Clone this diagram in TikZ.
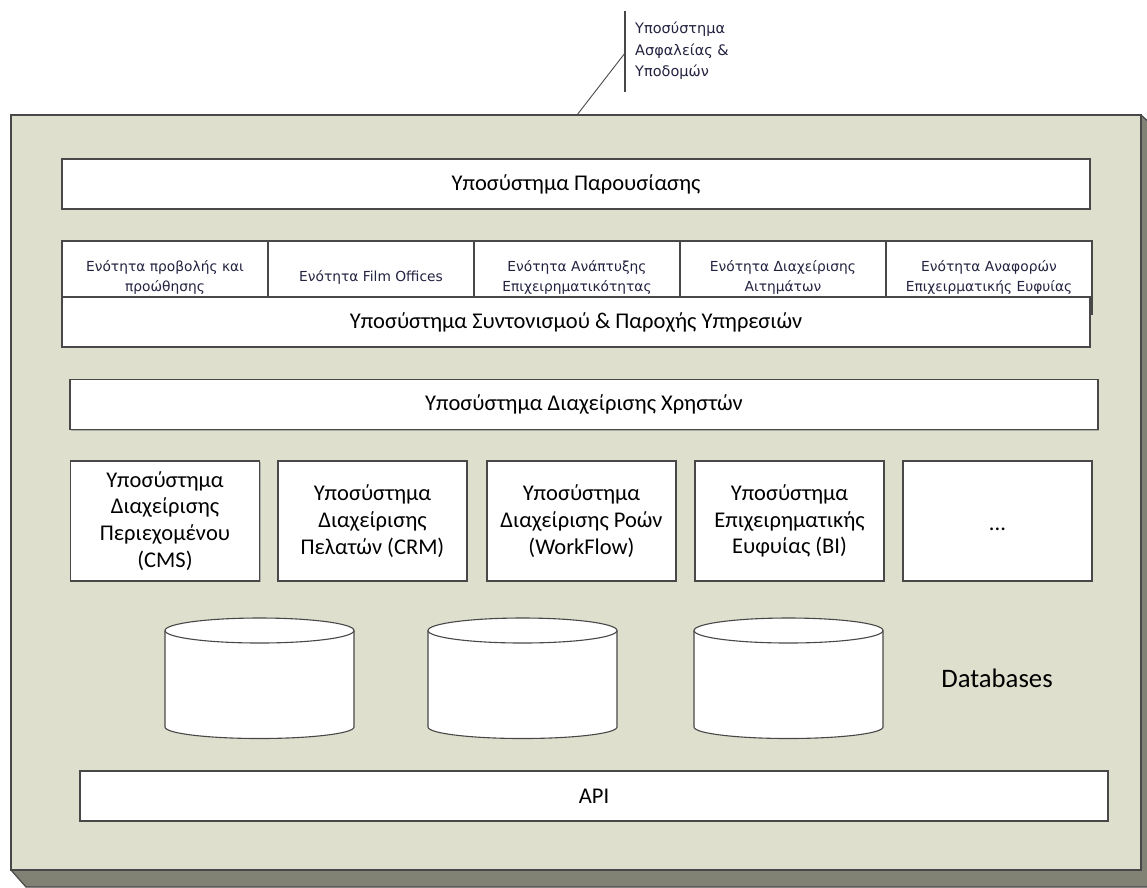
\documentclass[tikz,border=0pt]{standalone}
\usepackage{fontspec}
\setmainfont{Carlito}
\newfontfamily\tahomafont{DejaVu Sans}
\usetikzlibrary{shadows}

\definecolor{facecol}{RGB}{222,224,205}
\definecolor{depthcol}{RGB}{129,129,116}
\definecolor{edgecol}{RGB}{72,72,72}
\definecolor{smalltext}{RGB}{35,35,65}

\tikzset{
  boxed/.style={draw=edgecol, fill=white, line width=1.2pt, inner sep=0pt,
    drop shadow={shadow xshift=1.4pt, shadow yshift=-1.4pt, fill=black!45, opacity=0.6}},
  layer/.style={boxed, minimum height=50pt, font=\fontsize{22.5}{26.5}\selectfont},
  unitbox/.style={boxed, minimum width=206pt, minimum height=73pt, align=center,
    text=smalltext, font=\tahomafont\fontsize{13.8}{20}\selectfont},
  subsys/.style={boxed, minimum width=189pt, minimum height=120pt, align=center,
    font=\fontsize{22.5}{26.8}\selectfont},
}

\begin{document}
\begin{tikzpicture}[x=1pt,y=-1pt]
        \useasboundingbox (0,0) rectangle (1147,887);

        % the 3d frame of the system
        \filldraw[fill=depthcol, draw=edgecol, line width=1.2pt]
          (11,870) -- (26,887) -- (1160,887) -- (1160,132) -- (1141,115) -- cycle;
        \node[draw=edgecol, fill=facecol, line width=1.5pt, minimum width=1130pt,
          minimum height=755pt, inner sep=0pt] (system) at (576,492.5) {};

        % security subsystem label
        \coordinate (stickTop) at (625,11);
        \coordinate (stickMid) at (625,53);
        \coordinate (stickBot) at (625,92);
        \coordinate (hook) at (577,115);
        \draw[edgecol, line width=1.2pt] (stickTop) -- (stickBot);
        \draw[edgecol, line width=0.9pt] (stickMid) -- (hook);
        \node[anchor=west, align=left, inner sep=0pt, text=smalltext,
          font=\tahomafont\fontsize{14.5}{21.5}\selectfont] (security) at (635,51)
          {Υποσύστημα\\Ασφαλείας \&\\Υποδομών};

        \node[layer, minimum width=1028pt] (present) at (576,184) {Υποσύστημα Παρουσίασης};

        % units on top of the coordination layer (lower part hidden by it)
        \foreach \i/\txt in {1/{Ενότητα προβολής και\\προώθησης},
                             2/{Ενότητα Film Offices},
                             3/{Ενότητα Ανάπτυξης\\Επιχειρηματικότητας},
                             4/{Ενότητα Διαχείρισης\\Αιτημάτων},
                             5/{Ενότητα Αναφορών\\Επιχειρματικής Ευφυίας}} {
          \node[unitbox] (unit\i) at (-41+206*\i,277.5) {\txt};
        }

        \node[layer, minimum width=1028pt] (coord) at (576,322)
          {Υποσύστημα Συντονισμού \& Παροχής Υπηρεσιών};

        \node[layer, minimum width=1028pt] (users) at (584,404.5)
          {Υποσύστημα Διαχείρισης Χρηστών};

        % subsystems
        \node[subsys] (cms) at (165,521) {Υποσύστημα\\Διαχείρισης\\Περιεχομένου\\(CMS)};
        \node[subsys] (crm) at (372.5,521) {Υποσύστημα\\Διαχείρισης\\Πελατών (CRM)};
        \node[subsys] (wf) at (581.5,521) {Υποσύστημα\\Διαχείρισης Ροών\\(WorkFlow)};
        \node[subsys] (bi) at (789.5,521) {Υποσύστημα\\Επιχειρηματικής\\Ευφυίας (BI)};
        \node[subsys] (more) at (997.5,521) {};
        \node[inner sep=0pt, font=\fontsize{22.5}{26.8}\selectfont] (moreDots) at (997.5,529) {...};

        % databases
        \foreach \cx in {259.5,522.5,788.5} {
          \draw[edgecol, fill=white, line width=1.1pt]
            (\cx-94.5,630.5) -- (\cx-94.5,727)
            arc[start angle=180, end angle=360, x radius=94.5pt, y radius=11.5pt]
            -- (\cx+94.5,630.5)
            arc[start angle=0, end angle=180, x radius=94.5pt, y radius=12.5pt] -- cycle;
          \draw[edgecol, line width=1.1pt] (\cx-94.5,630.5)
            arc[start angle=180, end angle=360, x radius=94.5pt, y radius=12.5pt];
        }
        \node[font=\fontsize{26.7}{30}\selectfont] (dblabel) at (997,678) {Databases};

        \node[layer, minimum width=1028pt] (api) at (594,796) {API};
      \end{tikzpicture}
\end{document}
